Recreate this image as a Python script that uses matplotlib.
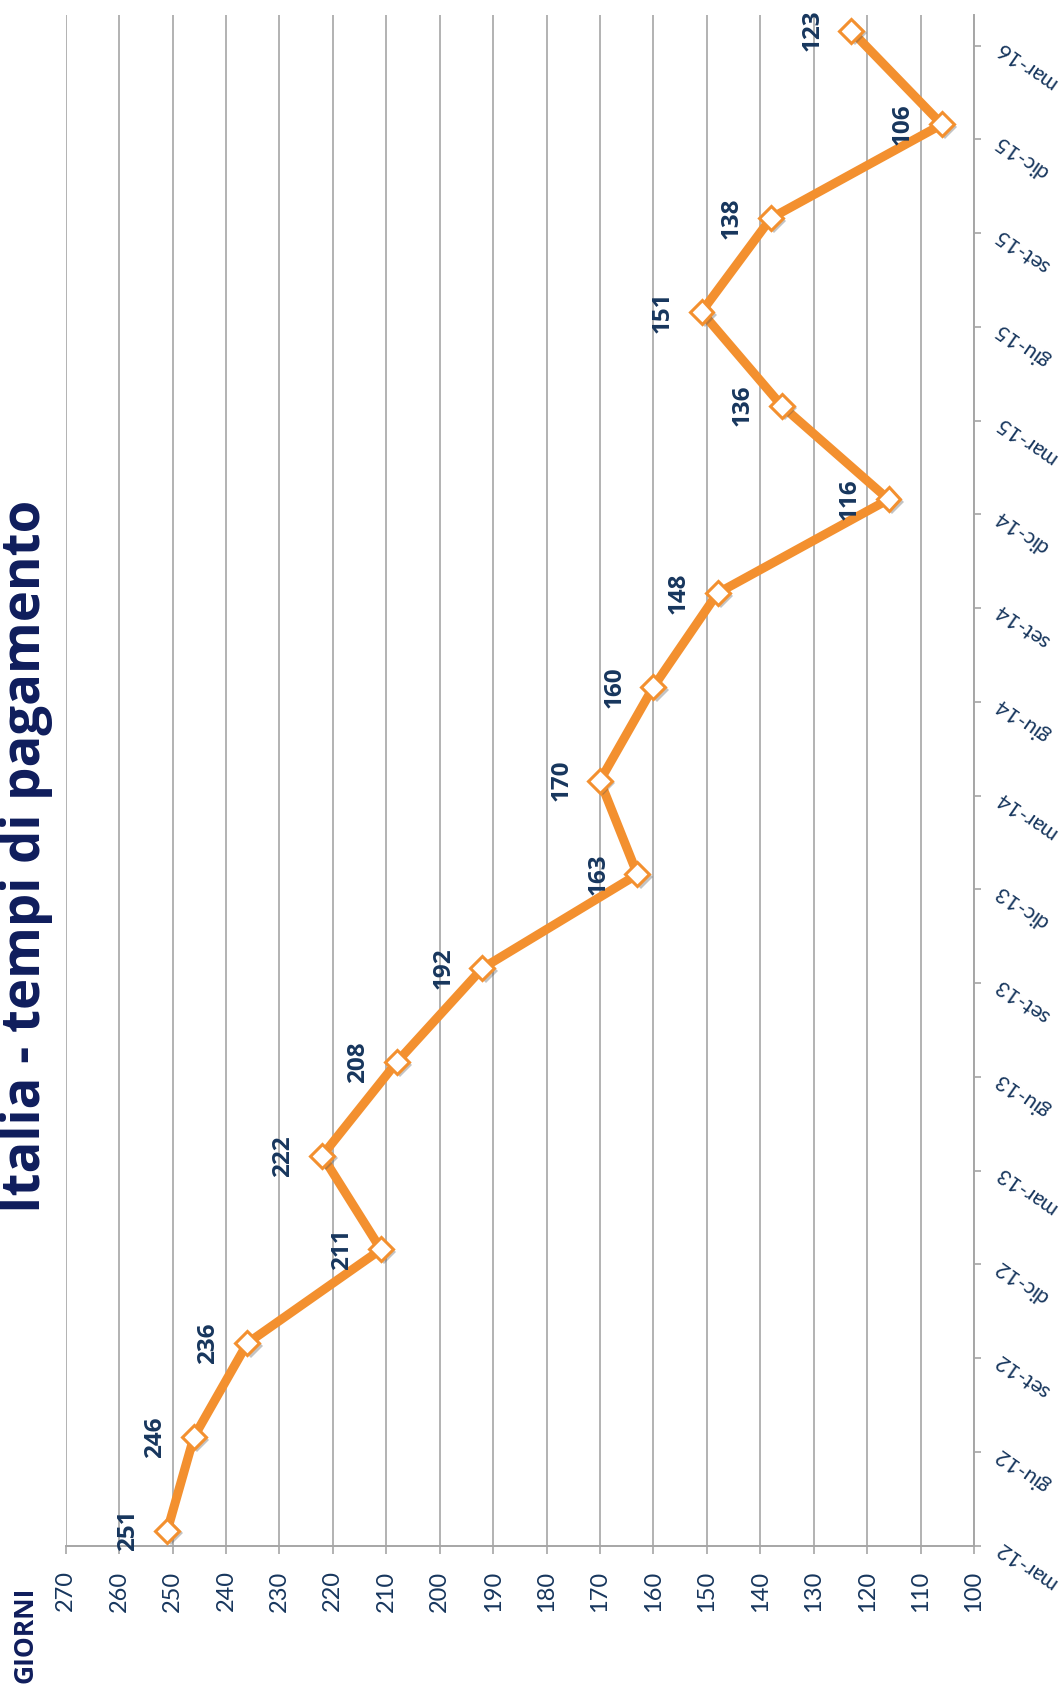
import matplotlib
matplotlib.use("Agg")
import matplotlib.pyplot as plt
import matplotlib.patheffects as pe

# ---- data ----
categories = ["mar-12", "giu-12", "set-12", "dic-12", "mar-13", "giu-13", "set-13", "dic-13",
              "mar-14", "giu-14", "set-14", "dic-14", "mar-15", "giu-15", "set-15", "dic-15", "mar-16"]
giorni = [251, 246, 236, 211, 222, 208, 192, 163, 170, 160, 148, 116, 136, 151, 138, 106, 123]
value_ticks = list(range(100, 280, 10))
title = "Italia - tempi di pagamento"
axis_title = "GIORNI"

# ---- style ----
ORANGE = "#F3902F"
NAVY = "#17365D"
TITLE_NAVY = "#0F1D5C"
GRID = "#A6A6A6"
FONT = ["Lato", "DejaVu Sans"]
BOLD_FONT = ["Open Sans", "DejaVu Sans"]
plt.rcParams["font.family"] = FONT

W, H = 1062, 1695
fig = plt.figure(figsize=(W / 100, H / 100), dpi=100)
fig.patch.set_facecolor("white")

left, right, bottom, top = 65.7, 974.0, 1545.7, 15.0
ax = fig.add_axes([left / W, 1 - bottom / H, (right - left) / W, (bottom - top) / H])

idx = list(range(len(categories)))
shift = 0.16
ax.set_xlim(270, 100)
ax.set_ylim(-shift, 16.167)

# line
ax.plot(giorni, idx, color=ORANGE, lw=6.5, solid_joinstyle="round", zorder=3)
# markers with shadow
ax.plot(giorni, idx, ls="none", marker="D", ms=12.2, mfc="white", mec=ORANGE, mew=2.2, zorder=4,
        path_effects=[pe.SimplePatchShadow(offset=(2.5, -2), shadow_rgbFace="#555555", alpha=0.35),
                      pe.Normal()])

# data labels
for v, i in zip(giorni, idx):
    ax.annotate(str(v), (v, i), xytext=(-28, 0), textcoords="offset points",
                rotation=90, ha="center", va="center", fontsize=17.5, fontweight="bold",
                family=BOLD_FONT, color=NAVY, zorder=5)

# grid
ax.set_xticks(value_ticks)
ax.set_xticklabels([str(t) for t in value_ticks])
ax.grid(axis="x", color=GRID, lw=1.2, zorder=0)
ax.set_axisbelow(True)

# spines
for s in ["top", "left"]:
    ax.spines[s].set_visible(False)
for s in ["bottom", "right"]:
    ax.spines[s].set_color(GRID)
    ax.spines[s].set_linewidth(1.4)

ax.tick_params(axis="x", direction="out", length=5.8, width=1.2, color=GRID, labelsize=17,
               labelcolor=NAVY, labelrotation=90, pad=12)

ax.yaxis.tick_right()
ax.set_yticks([i - shift for i in idx])
ax.set_yticklabels(categories)
ax.tick_params(axis="y", direction="out", length=5, width=1.2, color=GRID, labelsize=15.5,
               labelcolor=NAVY, pad=12)
for lab in ax.get_yticklabels():
    lab.set_rotation(145)
    lab.set_rotation_mode("anchor")
    lab.set_ha("right")
    lab.set_va("center")

# titles
fig.text(40 / W, 1 - 856 / H, title, rotation=90, rotation_mode="anchor", ha="center",
         va="baseline", fontsize=38, fontweight="bold", family=BOLD_FONT, color=TITLE_NAVY)
fig.text(33 / W, 1 - 1635 / H, axis_title, rotation=90, rotation_mode="anchor", ha="center",
         va="baseline", fontsize=19, fontweight="bold", family=BOLD_FONT, color=TITLE_NAVY)

fig.savefig("out.png", dpi=100, facecolor="white")
